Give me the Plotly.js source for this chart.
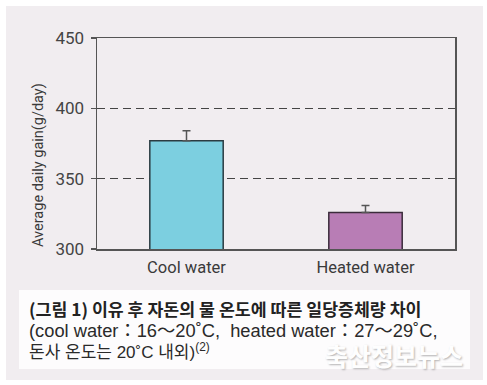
<!DOCTYPE html>
<html>
<head>
<meta charset="utf-8">
<script src="https://cdn.plot.ly/plotly-3.0.1.min.js"></script>
<style>html,body{margin:0;padding:0;background:#fff;}#chart{width:487px;height:385px;}</style>
</head>
<body>
<div id="chart"></div>
<script>
const categories = ["Cool water", "Heated water"];
const gainValues = [377, 326];
const gainErrors = [7, 5];
const barColors = ["#7ccfe0", "#b87db5"];
const barLines = ["#2b3c42", "#3b2c3b"];
const yTicks = [300, 350, 400, 450];
const yTitle = "Average daily gain(g/day)";
const captionLines = [
  "<b>(그림 1) 이유 후 자돈의 물 온도에 따른 일당증체량 차이</b>",
  "(cool water：16～20˚C,\u00a0 heated water：27～29˚C,",
  "돈사 온도는 20˚C 내외)<sup>(2)</sup>"
];
const watermark = "축산정보뉴스";

// pixel -> paper helpers (plot area: x 97..455, y 38..249)
const L = 97, R = 455, T = 38, B = 249;
const px = v => (v - L) / (R - L);
const py = v => (B - v) / (B - T);
const capFont = "'Liberation Sans', 'Noto Sans CJK KR', sans-serif";

const trace = {
  type: "bar",
  x: categories,
  y: gainValues,
  width: 0.41,
  marker: {color: barColors, line: {color: barLines, width: 1.5}},
  error_y: {type: "data", symmetric: false, array: gainErrors, arrayminus: [0, 0],
            color: "#555", thickness: 1.5, width: 4},
  hoverinfo: "none"
};

const layout = {
  width: 487, height: 385,
  margin: {l: L, r: 487 - R, t: T, b: 385 - B},
  paper_bgcolor: "#ffffff",
  plot_bgcolor: "rgba(0,0,0,0)",
  showlegend: false,
  font: {family: "Roboto, 'DejaVu Sans', sans-serif", color: "#3a3a3a"},
  xaxis: {
    type: "category", range: [-0.5, 1.5],
    showline: true, linecolor: "#555", linewidth: 1.5, mirror: true,
    ticks: "", showgrid: false, zeroline: false,
    tickfont: {size: 16.5, color: "#3a3a3a"}, ticklabelstandoff: 3
  },
  xaxis2: {
    overlaying: "x", anchor: "y", side: "bottom", range: [-0.5, 1.5],
    tickvals: [-0.5, 1.5], ticks: "outside", ticklen: 4, tickcolor: "#555", tickwidth: 1.5,
    showticklabels: false, showgrid: false, zeroline: false, showline: false
  },
  yaxis: {
    range: [300, 450], tickvals: yTicks,
    showline: true, linecolor: "#555", linewidth: 1.5, mirror: true,
    ticks: "outside", ticklen: 5, tickcolor: "#555", tickwidth: 1.5,
    showgrid: true, gridcolor: "#444", gridwidth: 1.5, griddash: "8px,5px",
    zeroline: false,
    tickfont: {size: 17, color: "#444"}, ticklabelstandoff: 3
  },
  shapes: [
    {type: "rect", xref: "paper", yref: "paper", layer: "below",
     x0: px(6), x1: px(483), y0: py(380), y1: py(6),
     fillcolor: "#f1edf0", line: {width: 0}},
    {type: "rect", xref: "paper", yref: "paper", layer: "below",
     x0: px(19), x1: px(470), y0: py(369), y1: py(290),
     fillcolor: "#fdfcfd", line: {width: 0}}
  ],
  annotations: [
    {xref: "paper", yref: "paper", x: px(38), y: py(165), xanchor: "center", yanchor: "middle",
     textangle: -90, text: yTitle, showarrow: false,
     font: {family: "Roboto, sans-serif", size: 14.5, color: "#3a3a3a"}},
    {xref: "paper", yref: "paper", x: px(27), y: py(308), xanchor: "left", yanchor: "middle",
     text: captionLines[0], showarrow: false,
     font: {family: "'Noto Sans CJK KR', sans-serif", size: 17.3, color: "#222"}},
    {xref: "paper", yref: "paper", x: px(27), y: py(330), xanchor: "left", yanchor: "middle",
     text: captionLines[1], showarrow: false,
     font: {family: capFont, size: 18.3, color: "#2a2a2a"}},
    {xref: "paper", yref: "paper", x: px(27), y: py(351), xanchor: "left", yanchor: "middle",
     text: captionLines[2], showarrow: false,
     font: {family: capFont, size: 17, color: "#2a2a2a"}},
    {xref: "paper", yref: "paper", x: px(394), y: py(355), xanchor: "center", yanchor: "middle",
     text: "<b>" + watermark + "</b>", showarrow: false, opacity: 0.95,
     font: {family: "'Noto Sans CJK KR', sans-serif", size: 25, color: "#ffffff",
            shadow: "1px 1px 2px rgba(0,0,0,0.3)"}}
  ]
};

Plotly.newPlot("chart", [trace], layout, {displayModeBar: false, staticPlot: true});
</script>
</body>
</html>
